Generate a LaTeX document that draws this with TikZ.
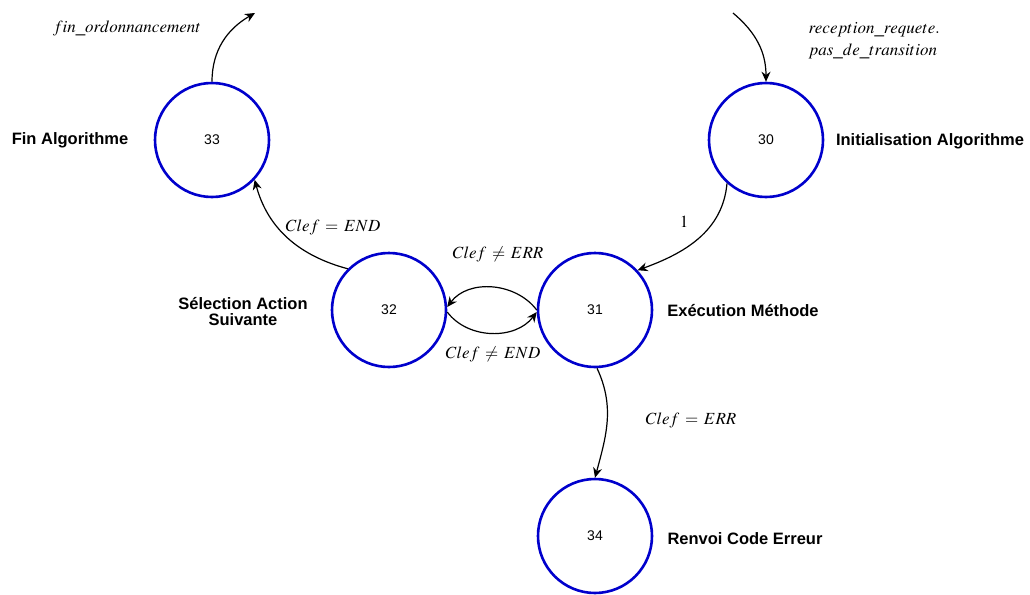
\documentclass[tikz,border=0pt]{standalone}
\usepackage{mathptmx}
\usepackage[no-math]{fontspec}
\setmainfont{Liberation Sans}
\usetikzlibrary{arrows.meta}

\begin{document}
\begin{tikzpicture}[x=1pt, y=-1pt, >={Stealth[length=10pt,width=9pt]},
    etat/.style={draw=blue!80!black, line width=2.6pt, circle, minimum size=114pt,
        inner sep=0pt, font=\fontsize{14}{16}\selectfont},
    nom/.style={font=\fontsize{16.5}{19}\selectfont\bfseries, align=center},
    cond/.style={font=\fontsize{17}{21}\selectfont},
    trans/.style={->, line width=1.2pt}]
    \useasboundingbox (0,0) rectangle (1030,594);

    % les etats
    \node[etat] (n33) at (212,140) {33};
    \node[etat] (n30) at (766,140) {30};
    \node[etat] (n32) at (389,310) {32};
    \node[etat] (n31) at (595,310) {31};
    \node[etat] (n34) at (595,536) {34};

    \node[nom] (nom33) at (70,140) {Fin Algorithme};
    \node[nom] (nom30) at (930,141) {Initialisation Algorithme};
    \node[nom] (nom32) at (243,312) {Sélection Action\\[-3pt]Suivante};
    \node[nom] (nom31) at (743,311) {Exécution Méthode};
    \node[nom] (nom34) at (745,539) {Renvoi Code Erreur};

    \coordinate (fin) at (255,13);
    \coordinate (debut) at (733,13);

    % les transitions
    \draw[trans] (n33.north) to[out=90, in=210] (fin);
    \draw[trans] (debut) to[out=-40, in=90] (n30.north);
    \draw[trans] (n30.-132) to[out=-95, in=20] (n31.43);
    \draw[trans] (n32.135) to[out=165, in=-75] (n33.-43);
    \draw[trans] (n31.180) to[out=127, in=53] (n32.3);
    \draw[trans] (n32.-2) to[out=-53, in=-127] (n31.182);
    \draw[trans] (n31.-88) to[out=-65, in=75] (n34.north);

    \node[cond] (c1) at (127,28) {$fin\_ordonnancement$};
    \node[cond, anchor=west, align=left] (c2) at (805,41)
        {$reception\_requete.$\\[1pt]$pas\_de\_transition$};
    \node[cond] (c3) at (684,222) {$1$};
    \node[cond] (c4) at (333,227) {$Clef \,=\, END$};
    \node[cond] (c5) at (498,254) {$Clef \,\neq\, ERR$};
    \node[cond] (c6) at (493,354) {$Clef \,\neq\, END$};
    \node[cond] (c7) at (691,420) {$Clef \,=\, ERR$};
\end{tikzpicture}
\end{document}
